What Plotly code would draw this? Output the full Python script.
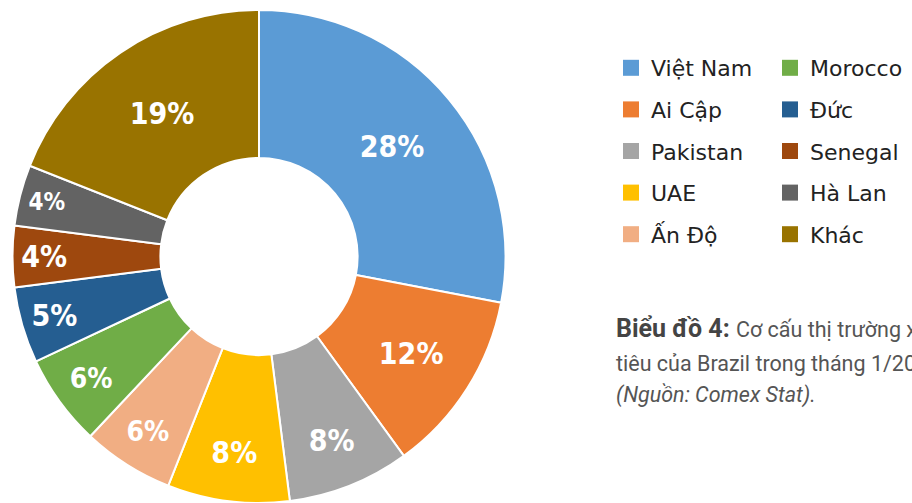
import plotly.graph_objects as go

labels = ["Việt Nam", "Ai Cập", "Pakistan", "UAE", "Ấn Độ",
          "Morocco", "Đức", "Senegal", "Hà Lan", "Khác"]
values = [28, 12, 8, 8, 6, 6, 5, 4, 4, 19]
colors = ["#5B9BD5", "#ED7D31", "#A5A5A5", "#FFC000", "#F1AE83",
          "#70AD47", "#255E91", "#9E480E", "#636363", "#997300"]
label_sizes = [30, 30, 30, 30, 28, 28, 30, 30, 24, 30]

caption_bold = "Biểu đồ 4:"
caption_rest = "Cơ cấu thị trường xuất khẩu hồ"
caption_line2 = "tiêu của Brazil trong tháng 1/2024"
caption_source = "(Nguồn: Comex Stat)."

W, H = 912, 503

fig = go.Figure()
fig.add_trace(go.Pie(
    labels=labels, values=values, sort=False, direction="clockwise", rotation=0,
    hole=0.40,
    marker=dict(colors=colors, line=dict(color="white", width=2)),
    texttemplate="%{value}%", textposition="inside",
    insidetextorientation="horizontal",
    textfont=dict(family="DejaVu Sans Condensed, DejaVu Sans, sans-serif",
                  size=label_sizes, color="white", weight="bold"),
    showlegend=False, hoverinfo="label+percent",
    domain=dict(x=[9 / W, 509 / W], y=[0, 1 - 10 / H]),
))

# legend entries (two columns)
for i, (lab, col) in enumerate(zip(labels, colors)):
    fig.add_trace(go.Scatter(
        x=[None], y=[None], mode="markers", name=lab,
        marker=dict(symbol="square", size=18, color=col),
        legend="legend" if i < 5 else "legend2",
        legendgroup=f"g{i}", showlegend=True,
    ))

legend_common = dict(
    font=dict(family="DejaVu Sans, sans-serif", size=22, color="#222"),
    orientation="v", traceorder="grouped", tracegroupgap=10,
    bgcolor="rgba(0,0,0,0)", borderwidth=0,
    xanchor="left", yanchor="top", itemwidth=30,
)

fig.update_layout(
    width=W, height=H, autosize=False,
    margin=dict(l=0, r=0, t=0, b=0, autoexpand=False),
    paper_bgcolor="white", plot_bgcolor="white",
    xaxis=dict(visible=False), yaxis=dict(visible=False),
    legend=dict(x=611 / W, y=1 - 47 / H, **legend_common),
    legend2=dict(x=770 / W, y=1 - 47 / H, **legend_common),
    annotations=[
        dict(x=614 / W, y=1 - 328 / H, xref="paper", yref="paper",
             xanchor="left", yanchor="middle", showarrow=False,
             text=f"<b>{caption_bold}</b> <span style='font-size:21.5px;color:#555'>{caption_rest}</span>",
             font=dict(family="Roboto, sans-serif", size=25, color="#444")),
        dict(x=614 / W, y=1 - 363 / H, xref="paper", yref="paper",
             xanchor="left", yanchor="middle", showarrow=False,
             text=caption_line2,
             font=dict(family="Roboto, sans-serif", size=21.5, color="#555")),
        dict(x=614 / W, y=1 - 395 / H, xref="paper", yref="paper",
             xanchor="left", yanchor="middle", showarrow=False,
             text=f"<i>{caption_source}</i>",
             font=dict(family="Roboto, sans-serif", size=21.5, color="#555")),
    ],
)

fig.write_html("out.html", config={"displayModeBar": False},
               post_script="document.body.style.margin='0';document.body.style.overflow='hidden';")
